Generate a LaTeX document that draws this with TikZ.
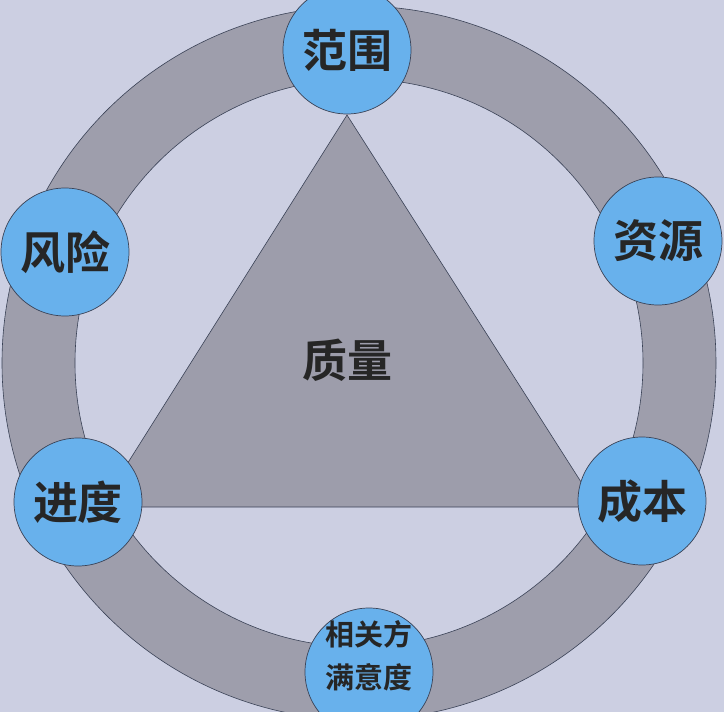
\documentclass[tikz,border=0pt]{standalone}
\usepackage{fontspec}
\newfontfamily\cjk{Noto Sans CJK SC}[BoldFont={Noto Sans CJK SC Bold}]
\usetikzlibrary{positioning}

\definecolor{bgpaper}{RGB}{204,207,226}
\definecolor{ringgray}{RGB}{158,158,172}
\definecolor{trigray}{RGB}{157,157,171}
\definecolor{bubbleblue}{RGB}{104,177,236}
\definecolor{edgeline}{RGB}{58,66,86}

\begin{document}
\begin{tikzpicture}[
  x=1pt, y=-1pt,
  font=\cjk,
  bubble/.style={circle, draw=edgeline, line width=0.7pt, fill=bubbleblue,
              minimum size=128pt, inner sep=0pt, align=center, text=black!85,
              font=\cjk\bfseries\fontsize{45}{48}\selectfont},
  smalltxt/.style={font=\cjk\bfseries\fontsize{29}{43}\selectfont, align=center, text=black!85},
  rim/.style={draw=edgeline, line width=0.6pt}
]
\useasboundingbox (0,0) rectangle (724,712);
\fill[bgpaper] (0,0) rectangle (724,712);
\clip (0,0) rectangle (724,712);

% ring
\coordinate (mid) at (359,363);
\fill[ringgray, even odd rule] (mid) circle[radius=357pt] (mid) circle[radius=284pt];
\draw[rim] (mid) circle[radius=357pt];
\draw[rim] (mid) circle[radius=284pt];

% triangle
\coordinate (top)   at (347,115);
\coordinate (left)  at (100,507);
\coordinate (right) at (597,507);
\filldraw[fill=trigray, draw=edgeline, line width=0.6pt] (top) -- (left) -- (right) -- cycle;
\node[font=\cjk\bfseries\fontsize{45}{48}\selectfont, text=black!85] (qual) at (347,360) {质量};

% the six constraints
\node[bubble] (scope) at (347, 50) {范围};
\node[bubble] (res)   at (658,241) {资源};
\node[bubble] (cost)  at (642,501) {成本};
\node[bubble] (sched) at ( 78,502) {进度};
\node[bubble] (risk)  at ( 65,252) {风险};
\node[bubble] (stake) at (369,672) {};
\node[smalltxt] (staketxt) at (369,656) {相关方\\满意度};
\end{tikzpicture}
\end{document}
